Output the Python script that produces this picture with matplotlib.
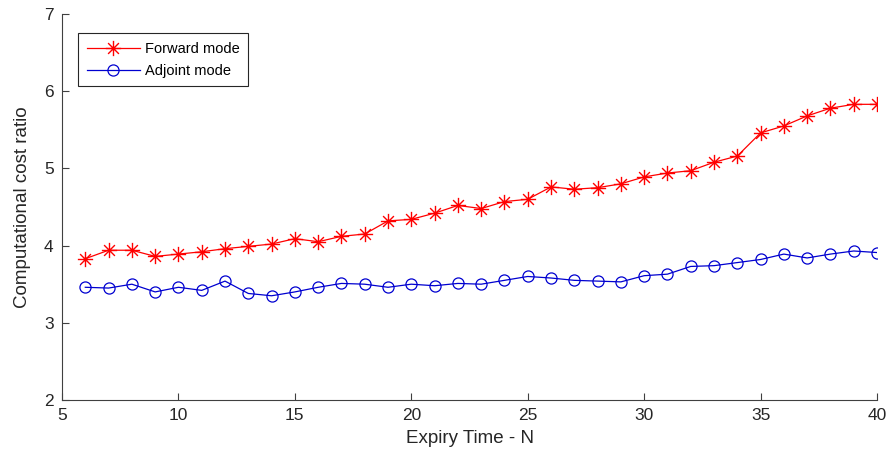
import matplotlib
matplotlib.use('Agg')
import matplotlib.pyplot as plt
from matplotlib.path import Path

plt.rcParams['font.family'] = ['Liberation Sans', 'DejaVu Sans']

# Expiry times N
n = list(range(6, 41))

# cost ratio for forward and adjoint differentiation
forward = [3.83, 3.94, 3.94, 3.86, 3.89, 3.92, 3.96, 3.99, 4.02, 4.09,
           4.05, 4.12, 4.15, 4.32, 4.34, 4.42, 4.52, 4.48, 4.57, 4.60,
           4.76, 4.73, 4.75, 4.80, 4.89, 4.94, 4.97, 5.08, 5.16, 5.46,
           5.55, 5.68, 5.78, 5.83, 5.83]
adjoint = [3.46, 3.45, 3.50, 3.40, 3.46, 3.42, 3.54, 3.38, 3.35, 3.40,
           3.46, 3.51, 3.50, 3.46, 3.50, 3.48, 3.51, 3.50, 3.55, 3.60,
           3.58, 3.55, 3.54, 3.53, 3.61, 3.63, 3.73, 3.74, 3.78, 3.82,
           3.89, 3.84, 3.89, 3.93, 3.91]

# matlab style asterisk: plus and cross on top of each other
d = 0.7071
asterisk = Path([(-1, 0), (1, 0), (0, -1), (0, 1), (-d, -d), (d, d), (-d, d), (d, -d)],
                [Path.MOVETO, Path.LINETO] * 4)

fig = plt.figure(figsize=(8.91, 4.65), dpi=100)
ax = fig.add_axes([0.0696, 0.1398, 0.9147, 0.8301])

ax.plot(n, forward, color='#ff0000', marker=asterisk, markersize=11, linewidth=0.9,
        markeredgewidth=1.0, label='Forward mode')
ax.plot(n, adjoint, color='#0000d0', marker='o', markersize=8, linewidth=0.9,
        markerfacecolor='none', markeredgewidth=0.9, label='Adjoint mode')

ax.set_xlim(5, 40)
ax.set_ylim(2, 7)
ax.set_xticks(range(5, 41, 5))
ax.set_yticks(range(2, 8))
ax.spines['top'].set_visible(False)
ax.spines['right'].set_visible(False)
for s in ['left', 'bottom']:
    ax.spines[s].set_color('#404040')
    ax.spines[s].set_linewidth(0.8)
ax.tick_params(direction='in', length=5, width=0.8, colors='#404040',
               labelsize=12.5, labelcolor='#262626', pad=6)

ax.set_xlabel('Expiry Time - N', fontsize=13.5, color='#262626', labelpad=5)
ax.set_ylabel('Computational cost ratio', fontsize=13.5, color='#262626', labelpad=9)

leg = ax.legend(loc='upper left', bbox_to_anchor=(0.011, 0.97), fontsize=10.5,
                fancybox=False, edgecolor='#262626', framealpha=1,
                handlelength=3.6, borderpad=0.6, labelspacing=0.55,
                handletextpad=0.35)
leg.get_frame().set_linewidth(0.8)

fig.savefig('out.png', dpi=100)
